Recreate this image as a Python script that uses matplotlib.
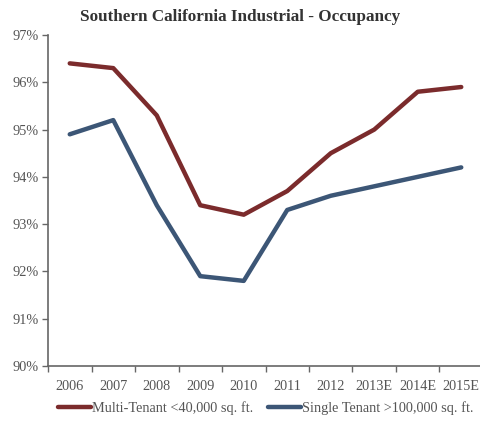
import numpy as np
import matplotlib
matplotlib.use("Agg")
import matplotlib.pyplot as plt
from matplotlib.ticker import FuncFormatter, FixedLocator

years = ["2006", "2007", "2008", "2009", "2010", "2011", "2012", "2013E", "2014E", "2015E"]
multi_tenant = [96.4, 96.3, 95.3, 93.4, 93.2, 93.7, 94.5, 95.0, 95.8, 95.9]
single_tenant = [94.9, 95.2, 93.4, 91.9, 91.8, 93.3, 93.6, 93.8, 94.0, 94.2]

plt.rcParams['font.family'] = ['Liberation Serif', 'DejaVu Serif']
txt = '#555555'

fig = plt.figure(figsize=(4.81, 4.21), dpi=100)
ax = fig.add_axes([48 / 481, 1 - 366 / 421, 435 / 481, (366 - 35) / 421])

x = np.arange(len(years))
ax.plot(x, multi_tenant, color='#7b2b2c', lw=3.2, solid_capstyle='round', solid_joinstyle='round',
        label='Multi-Tenant <40,000 sq. ft.')
ax.plot(x, single_tenant, color='#3c5676', lw=3.2, solid_capstyle='round', solid_joinstyle='round',
        label='Single Tenant >100,000 sq. ft.')

ax.set_xlim(-0.5, len(years) - 0.5)
ax.set_ylim(90, 97)
ax.set_yticks(np.arange(90, 98, 1))
ax.yaxis.set_major_formatter(FuncFormatter(lambda v, p: '%d%%' % v))

# categories sit between tick marks
ax.xaxis.set_major_locator(FixedLocator(np.arange(-0.5, len(years), 1)))
ax.xaxis.set_minor_locator(FixedLocator(x))
ax.set_xticklabels([''] * len(ax.get_xticks()))
ax.set_xticklabels(years, minor=True)
ax.tick_params(axis='x', which='minor', length=0, pad=10, labelsize=10.3, labelcolor=txt)
ax.tick_params(axis='x', which='major', length=4, width=1, color='#666666', direction='out')
ax.tick_params(axis='y', length=4, width=1, color='#666666', labelsize=10.3, labelcolor=txt, pad=3)

for s in ['top', 'right']:
    ax.spines[s].set_visible(False)
for s in ['left', 'bottom']:
    ax.spines[s].set_color('#666666')
    ax.spines[s].set_linewidth(1.2)

fig.text(0.5, 1 - 17 / 421, 'Southern California Industrial - Occupancy', ha='center', va='center',
         fontsize=12.3, fontweight='bold', color='#333333')

fig.legend(loc='center', bbox_to_anchor=(266 / 481, 1 - 408 / 421), ncol=2, frameon=False,
           fontsize=10.3, handlelength=2.3, handletextpad=0.1, columnspacing=1.0,
           labelcolor=txt)

fig.savefig('out.png', dpi=100)
